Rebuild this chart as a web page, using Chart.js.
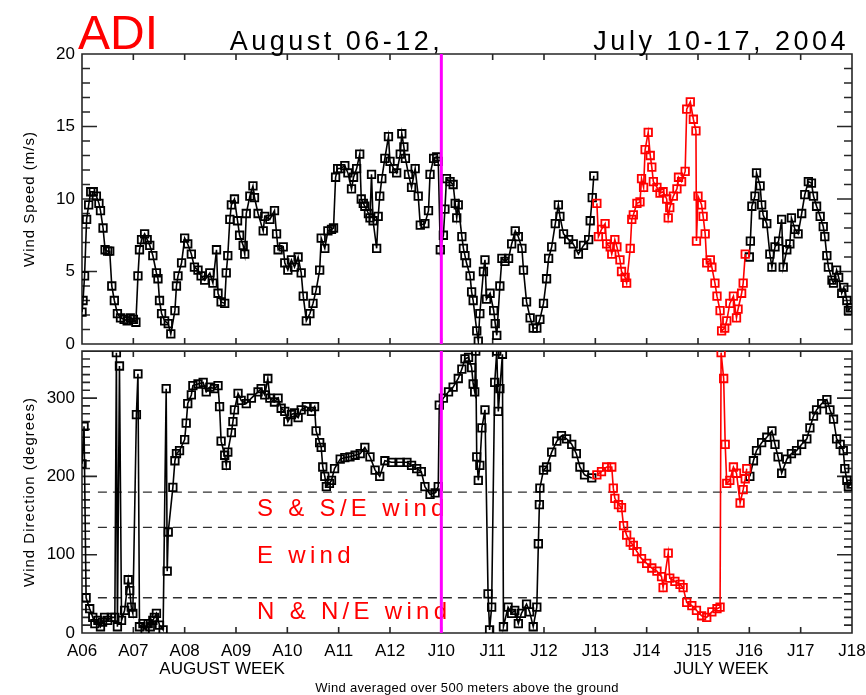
<!DOCTYPE html>
<html>
<head>
<meta charset="utf-8">
<title>ADI wind speed and direction</title>
<script src="https://cdn.jsdelivr.net/npm/chart.js@4.4.1/dist/chart.umd.min.js"></script>
<style>
  html, body { margin: 0; padding: 0; background: #ffffff; }
  #wrap { position: relative; width: 866px; height: 695px; overflow: hidden; }
  canvas { position: absolute; left: 0; }
  #speedCanvas { top: 0; }
  #dirCanvas { top: 344px; }
</style>
</head>
<body>
<div id="wrap">
  <canvas id="speedCanvas" width="866" height="362"></canvas>
  <canvas id="dirCanvas" width="866" height="351"></canvas>
</div>
<script>
// ---- Axis labels and text -------------------------------------------------
const dayLabels = ['A06','A07','A08','A09','A10','A11','A12','J10','J11','J12','J13','J14','J15','J16','J17','J18'];
const speedTicks = [0, 5, 10, 15, 20];
const dirTicks = [0, 100, 200, 300];
const sectorBounds = [180, 135, 45];
const sectorNames = ['S & S/E wind', 'E wind', 'N & N/E wind'];
const stationName = 'ADI';
const periodLabels = ['August 06-12,', 'July 10-17, 2004'];
const weekNames = ['AUGUST WEEK', 'JULY WEEK'];
const footNote = 'Wind averaged over 500 meters above the ground';
const dividerDay = 7;   // August week ends, July week begins

// ---- Wind speed (m/s); time in days from the first axis tick ---------------
const speedDays1 = [
  0.00,0.02,0.05,0.09,0.13,0.17,0.22,0.28,0.33,0.36,
  0.41,0.45,0.50,0.54,0.58,0.63,0.69,0.75,0.82,0.88,
  0.94,1.00,1.05,1.09,1.12,1.16,1.22,1.27,1.32,1.38,
  1.45,1.48,1.51,1.55,1.61,1.68,1.73,1.81,1.84,1.87,
  1.94,2.00,2.06,2.13,2.19,2.26,2.32,2.39,2.49,2.55,
  2.62,2.65,2.71,2.78,2.81,2.84,2.88,2.91,2.97,3.03,
  3.07,3.14,3.17,3.20,3.27,3.33,3.36,3.43,3.53,3.56,
  3.66,3.75,3.79,3.82,3.92,3.95,4.01,4.08,4.14,4.21,
  4.27,4.31,4.37,4.44,4.50,4.56,4.63,4.66,4.73,4.79,
  4.86,4.90,4.94,4.98,5.04,5.12,5.18,5.25,5.29,5.35,
  5.41,5.44,5.48,5.51,5.58,5.61,5.64,5.67,5.74,5.77,
  5.80,5.84,5.90,5.97,6.00,6.07,6.13,6.20,6.23,6.27,
  6.30,6.36,6.42,6.49,6.55,6.59,6.68,6.75,6.78,6.85,
  6.91,6.94,6.98,7.04,7.07,7.10,7.17,7.23,7.27,7.30,
  7.33,7.40,7.43,7.46,7.49,7.56,7.59,7.62,7.69,7.72,
  7.75,7.82,7.85,7.88,7.95,8.02,8.05,8.08,8.14,8.18,
  8.24,8.31,8.37,8.44,8.50,8.57,8.60,8.66,8.73,8.79,
  8.86,8.92,8.99,9.05,9.09,9.15,9.22,9.28,9.31,9.38,
  9.48,9.57,9.67,9.77,9.87,9.90,9.94,9.97
];
const speedBlack1 = [
  2.2,3.0,4.7,8.6,9.6,10.5,10.5,10.2,9.7,9.2,
  8.0,6.5,6.4,6.4,4.0,3.0,2.1,1.8,1.7,1.6,
  1.8,1.7,1.5,4.7,6.5,7.2,7.6,7.2,6.8,6.1,
  4.9,4.5,3.0,2.1,1.6,1.4,0.7,2.3,4.0,4.7,
  5.6,7.3,6.9,6.2,5.3,5.1,4.7,4.4,4.9,4.2,
  6.5,3.5,2.9,2.8,4.9,6.1,8.6,9.6,10.0,8.5,
  7.5,6.8,6.2,9.0,10.2,10.9,10.1,9.0,7.8,8.8,
  8.6,9.2,7.6,6.5,6.7,5.6,5.1,5.8,5.3,6.0,
  4.9,3.3,1.6,2.1,2.8,3.7,5.1,7.3,6.6,7.8,
  7.9,8.0,11.5,12.1,12.1,12.3,11.8,10.7,11.5,12.1,
  13.1,10.0,9.7,9.5,9.0,8.7,11.7,8.5,6.6,8.8,
  10.2,11.4,12.8,14.3,12.6,12.1,11.8,13.1,14.5,13.6,
  12.8,11.7,10.8,12.1,10.2,8.2,8.3,9.2,11.7,12.8,
  12.9,12.6,6.5,7.5,9.3,11.4,11.2,11.0,9.7,8.7,
  9.6,7.4,6.6,6.1,5.6,4.7,3.6,3.0,0.9,0.2,
  2.1,5.0,5.8,3.1,3.5,2.3,1.4,0.6,4.0,5.9,
  5.7,5.9,6.9,7.8,7.4,6.6,5.1,2.9,1.8,1.1,
  1.1,1.7,2.8,4.5,5.9,6.7,8.3,9.6,8.8,7.6,
  7.2,6.9,6.2,6.8,7.2,8.5,10.1,11.6
];
const speedDaysRed = [
  10.03,10.06,10.12,10.19,10.22,10.29,10.32,10.38,10.42,10.48,
  10.51,10.58,10.61,10.68,10.71,10.74,10.81,10.87,10.90,10.94,
  10.97,11.03,11.07,11.10,11.13,11.20,11.26,11.32,11.39,11.42,
  11.45,11.52,11.59,11.62,11.68,11.75,11.78,11.85,11.91,11.96,
  11.97,12.00,12.07,12.10,12.14,12.17,12.24,12.27,12.33,12.37,
  12.43,12.46,12.52,12.56,12.62,12.69,12.75,12.78,12.85,12.88,
  12.92
];
const speedRed = [
  9.7,7.4,7.9,8.3,6.9,6.7,6.2,7.2,6.7,5.8,
  5.0,4.6,4.2,6.6,8.6,8.9,9.7,9.8,11.4,10.8,
  13.4,14.6,13.0,12.2,11.2,10.8,10.4,10.5,10.0,8.7,
  9.4,10.2,10.7,11.5,11.2,11.9,16.2,16.7,15.5,14.7,
  7.1,10.2,9.6,8.8,7.6,5.6,5.8,5.3,4.2,3.3,
  2.3,0.9,1.1,1.6,2.8,3.3,1.8,2.4,3.5,4.2,
  6.2
];
const speedDays2 = [
  13.00,13.02,13.05,13.11,13.14,13.21,13.24,13.27,13.34,13.40,
  13.44,13.50,13.57,13.63,13.66,13.73,13.79,13.82,13.89,13.95,
  14.02,14.08,14.15,14.21,14.25,14.31,14.38,14.44,14.47,14.51,
  14.54,14.61,14.64,14.70,14.74,14.80,14.84,14.90,14.93,14.97
];
const speedBlack2 = [
  6.0,7.1,9.5,10.2,11.8,10.9,9.6,8.9,8.3,6.2,
  5.3,6.7,7.1,8.6,5.3,6.5,6.9,8.7,7.9,7.6,
  9.0,10.3,11.2,11.1,10.2,9.5,8.8,8.1,7.4,6.1,
  5.3,4.4,4.2,5.1,4.6,3.5,3.9,3.0,2.3,2.5
];

// ---- Wind direction (degrees) ---------------------------------------------
const dirDays1 = [
  0.00,0.04,0.08,0.15,0.21,0.25,0.31,0.36,0.40,0.44,0.50,0.57,0.64,0.67,0.69,0.73,0.77,0.83,0.90,0.93,
  0.96,0.99,1.06,1.09,1.12,1.19,1.23,1.29,1.33,1.38,1.41,1.45,1.51,1.58,1.64,1.66,1.68,1.77,1.81,1.84,
  1.90,2.00,2.03,2.06,2.13,2.16,2.26,2.36,2.42,2.49,2.58,2.65,2.68,2.71,2.78,2.81,2.84,2.91,2.94,2.97,
  3.04,3.10,3.20,3.30,3.43,3.49,3.56,3.62,3.66,3.75,3.82,3.88,3.95,4.01,4.08,4.14,4.21,4.27,4.37,4.47,
  4.53,4.56,4.63,4.66,4.69,4.73,4.76,4.82,4.86,4.92,5.03,5.12,5.22,5.32,5.42,5.51,5.61,5.71,5.80,5.90,
  6.03,6.20,6.33,6.42,6.52,6.61,6.68,6.78,6.88,6.94,6.96,7.04,7.14,7.23,7.33,7.40,7.46,7.53,7.59,7.62,
  7.65,7.67,7.69,7.72,7.75,7.79,7.85,7.91,7.94,7.98,8.04,8.08,8.11,8.14,8.19,8.21,8.30,8.37,8.43,8.50,
  8.56,8.66,8.72,8.79,8.86,8.89,8.91,8.92,8.99,9.05,9.15,9.25,9.34,9.44,9.54,9.63,9.70,9.79,9.93
];
const dirBlack1 = [
  216,264,45,31,20,12,16,8,14,20,16,20,20,358,8,341,16,29,68,54,
  33,25,279,331,8,12,4,12,8,16,20,25,10,4,312,79,129,186,220,229,
  233,247,268,293,304,316,318,320,308,314,312,316,289,245,227,214,231,256,270,285,
  306,297,293,300,308,312,304,325,300,295,300,287,283,270,279,281,275,285,289,283,
  289,258,243,237,212,200,187,191,195,210,222,224,225,227,229,237,225,208,200,220,
  218,218,218,214,210,206,187,177,179,187,291,300,308,314,325,337,350,352,339,318,
  308,360,225,195,214,262,285,50,4,33,320,360,283,312,356,8,33,25,29,12,
  25,37,27,8,33,114,164,185,208,212,231,245,252,248,241,229,212,202,198
];
const dirDaysRed = [
  10.03,10.12,10.22,10.32,10.35,10.38,10.45,10.51,10.55,10.61,
  10.68,10.74,10.81,10.90,11.00,11.10,11.20,11.29,11.32,11.42,
  11.45,11.55,11.65,11.71,11.78,11.88,11.97,12.07,12.17,12.27,
  12.37,12.43,12.45,12.50,12.53,12.56,12.62,12.69,12.75,12.82,
  12.88,12.92,12.95
];
const dirRed = [
  202,206,212,212,185,172,164,160,137,125,
  116,112,104,95,89,83,79,72,58,102,
  70,66,62,58,39,35,29,22,20,27,
  31,33,358,325,241,191,195,212,204,166,
  183,197,210
];
const dirDays2 = [
  13.01,13.08,13.14,13.24,13.34,13.44,13.50,13.56,13.63,13.73,
  13.82,13.92,14.02,14.12,14.18,14.25,14.31,14.41,14.51,14.57,
  14.64,14.70,14.77,14.83,14.86,14.90,14.93,14.98
];
const dirBlack2 = [
  200,220,233,243,250,258,241,225,204,222,
  229,233,241,248,262,277,285,293,298,285,
  273,248,241,233,210,195,187,190
];

// ---- Drawing helpers ------------------------------------------------------
const FONT = '"Liberation Sans", Arial, Helvetica, sans-serif';
const BLACK = '#000000';
const RED = '#ff0000';
const MAGENTA = '#ff00ff';

Chart.defaults.font.family = FONT;

function toPoints(days, values) {
  return days.map((d, i) => ({ x: d, y: values[i] }));
}

function markerSeries(days, values, color, order) {
  return {
    data: toPoints(days, values),
    borderColor: color,
    borderWidth: 1.6,
    pointStyle: 'rect',
    pointRadius: 5.3,
    pointBorderColor: color,
    pointBackgroundColor: 'rgba(255,255,255,0)',
    pointBorderWidth: 1.8,
    tension: 0,
    order: order
  };
}

// magenta separator between the two weeks
function weekDivider(lo, hi) {
  return {
    data: [{ x: dividerDay, y: lo }, { x: dividerDay, y: hi }],
    borderColor: MAGENTA,
    borderWidth: 3,
    pointRadius: 0,
    order: -1
  };
}

// dashed line marking a sector boundary
function boundaryLine(deg) {
  return {
    data: [{ x: 0.31, y: deg }, { x: 14.92, y: deg }],
    borderColor: '#303030',
    borderWidth: 1.3,
    borderDash: [9, 6],
    pointRadius: 0,
    order: 5
  };
}

// box around the plot window with inward tick marks on all four sides
function panelFrame(majors, minorStep) {
  return {
    id: 'panelFrame',
    beforeDatasetsDraw(chart) {
      const { ctx, chartArea: a, scales: { x, y } } = chart;
      ctx.save();
      ctx.strokeStyle = '#262626';
      ctx.lineWidth = 1.6;
      ctx.beginPath();
      ctx.rect(a.left, a.top, a.right - a.left, a.bottom - a.top);
      dayLabels.forEach((_, i) => {
        const px = x.getPixelForValue(i);
        ctx.moveTo(px, a.top); ctx.lineTo(px, a.top + 6);
        ctx.moveTo(px, a.bottom); ctx.lineTo(px, a.bottom - 6);
      });
      for (let v = y.min; v <= y.max; v += minorStep) {
        const py = y.getPixelForValue(v);
        const len = majors.includes(v) ? 15 : 8;
        ctx.moveTo(a.left, py); ctx.lineTo(a.left + len, py);
        ctx.moveTo(a.right, py); ctx.lineTo(a.right - len, py);
      }
      ctx.stroke();
      ctx.restore();
    }
  };
}

function sideTitle(text) {
  return {
    id: 'sideTitle',
    afterDraw(chart) {
      const { ctx, chartArea: a } = chart;
      ctx.save();
      ctx.translate(30, (a.top + a.bottom) / 2);
      ctx.rotate(-Math.PI / 2);
      ctx.font = '15px ' + FONT;
      ctx.letterSpacing = '1px';
      ctx.fillStyle = BLACK;
      ctx.textAlign = 'center';
      ctx.textBaseline = 'middle';
      ctx.fillText(text, 0, 0);
      ctx.restore();
    }
  };
}

const headerText = {
  id: 'headerText',
  afterDraw(chart) {
    const { ctx, chartArea: a, scales: { x } } = chart;
    ctx.save();
    ctx.textBaseline = 'alphabetic';
    ctx.fillStyle = RED;
    ctx.font = '48px ' + FONT;
    ctx.textAlign = 'left';
    ctx.fillText(stationName, a.left - 4, a.top - 5);
    ctx.fillStyle = BLACK;
    ctx.font = '27px ' + FONT;
    ctx.letterSpacing = '3.5px';
    ctx.textAlign = 'right';
    ctx.fillText(periodLabels[0], x.getPixelForValue(dividerDay) + 2, a.top - 4);
    ctx.fillText(periodLabels[1], a.right - 3, a.top - 4);
    ctx.restore();
  }
};

// red captions naming the wind sectors between the dashed lines
const sectorCaptions = {
  id: 'sectorCaptions',
  beforeDatasetsDraw(chart) {
    const { ctx, scales: { x, y } } = chart;
    const baseDeg = [149, 89, 17.5];
    ctx.save();
    ctx.fillStyle = RED;
    ctx.font = '24px ' + FONT;
    ctx.letterSpacing = '4.3px';
    ctx.textAlign = 'left';
    ctx.textBaseline = 'alphabetic';
    sectorNames.forEach((name, i) => {
      ctx.fillText(name, x.getPixelForValue(3.41), y.getPixelForValue(baseDeg[i]));
    });
    ctx.restore();
  }
};

const footerText = {
  id: 'footerText',
  afterDraw(chart) {
    const { ctx, chartArea: a, scales: { x } } = chart;
    ctx.save();
    ctx.fillStyle = BLACK;
    ctx.textAlign = 'center';
    ctx.textBaseline = 'middle';
    ctx.font = '17px ' + FONT;
    ctx.fillText(weekNames[0], x.getPixelForValue(2.73), a.bottom + 36);
    ctx.fillText(weekNames[1], x.getPixelForValue(12.45), a.bottom + 36);
    ctx.font = '13px ' + FONT;
    ctx.letterSpacing = '0.3px';
    ctx.fillText(footNote, (a.left + a.right) / 2, a.bottom + 55);
    ctx.restore();
  }
};

const common = {
  responsive: false,
  devicePixelRatio: 1,
  animation: false,
  events: [],
  plugins: { legend: { display: false }, tooltip: { enabled: false } }
};

function yScale(max, ticks) {
  return {
    type: 'linear',
    min: 0,
    max: max,
    afterBuildTicks: s => { s.ticks = ticks.map(v => ({ value: v })); },
    afterFit: s => { s.width = 82; s.paddingTop = 0; s.paddingBottom = 0; },
    grid: { display: false, drawTicks: false },
    border: { display: false },
    ticks: { color: BLACK, padding: 7, font: { size: 17 } }
  };
}

// ---- Upper panel: wind speed ---------------------------------------------
new Chart(document.getElementById('speedCanvas'), {
  type: 'line',
  data: {
    datasets: [
      markerSeries(speedDays1, speedBlack1, BLACK, 2),
      markerSeries(speedDaysRed, speedRed, RED, 1),
      markerSeries(speedDays2, speedBlack2, BLACK, 2),
      weekDivider(0, 20)
    ]
  },
  options: Object.assign({}, common, {
    layout: { padding: { top: 54, right: 14, bottom: 18, left: 0 } },
    scales: {
      x: { type: 'linear', display: false, min: 0, max: 15 },
      y: yScale(20, speedTicks)
    }
  }),
  plugins: [panelFrame(speedTicks, 1), sideTitle('Wind Speed (m/s)'), headerText]
});

// ---- Lower panel: wind direction -----------------------------------------
new Chart(document.getElementById('dirCanvas'), {
  type: 'line',
  data: {
    datasets: [
      markerSeries(dirDays1, dirBlack1, BLACK, 2),
      markerSeries(dirDaysRed, dirRed, RED, 1),
      markerSeries(dirDays2, dirBlack2, BLACK, 2),
      ...sectorBounds.map(boundaryLine),
      weekDivider(0, 360)
    ]
  },
  options: Object.assign({}, common, {
    layout: { padding: { top: 0, right: 14, bottom: 0, left: 0 } },
    scales: {
      x: {
        type: 'linear',
        min: 0,
        max: 15,
        afterBuildTicks: s => { s.ticks = dayLabels.map((_, i) => ({ value: i })); },
        afterFit: s => { s.height = 62; s.paddingLeft = 0; s.paddingRight = 0; },
        grid: { display: false, drawTicks: false },
        border: { display: false },
        ticks: {
          color: BLACK,
          padding: 8,
          autoSkip: false,
          maxRotation: 0,
          font: { size: 17 },
          callback: v => dayLabels[Math.round(v)]
        }
      },
      y: yScale(360, dirTicks)
    }
  }),
  plugins: [panelFrame(dirTicks, 10), sectorCaptions, sideTitle('Wind Direction (degrees)'), footerText]
});
</script>
</body>
</html>
